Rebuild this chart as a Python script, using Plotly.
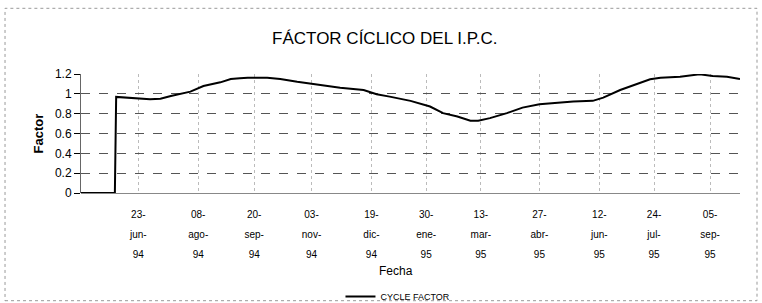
import plotly.graph_objects as go

# ---- data ----
fechas = [
    "1994-05-10", "1994-06-05", "1994-06-06", "1994-06-24", "1994-07-02", "1994-07-10",
    "1994-07-18", "1994-08-02", "1994-08-12", "1994-08-25", "1994-09-02", "1994-09-09",
    "1994-09-15", "1994-09-30", "1994-10-10", "1994-10-23", "1994-11-10", "1994-11-25",
    "1994-12-13", "1994-12-23", "1995-01-02", "1995-01-10", "1995-01-18", "1995-02-02",
    "1995-02-12", "1995-02-23", "1995-03-05", "1995-03-11", "1995-03-20", "1995-04-02",
    "1995-04-14", "1995-04-27", "1995-05-11", "1995-05-23", "1995-06-07", "1995-06-15",
    "1995-06-28", "1995-07-11", "1995-07-21", "1995-07-29", "1995-08-13", "1995-08-28",
    "1995-09-07", "1995-09-18", "1995-09-28",
]
cycle_factor = [
    0.0, 0.0, 0.969, 0.956, 0.946, 0.950,
    0.979, 1.022, 1.079, 1.116, 1.150, 1.157,
    1.163, 1.163, 1.150, 1.122, 1.089, 1.062,
    1.039, 0.996, 0.972, 0.949, 0.929, 0.872,
    0.805, 0.771, 0.728, 0.728, 0.755, 0.805,
    0.861, 0.896, 0.912, 0.922, 0.929, 0.962,
    1.039, 1.096, 1.147, 1.163, 1.173, 1.197,
    1.180, 1.173, 1.150,
]
tick_fechas = ["1994-06-23", "1994-08-08", "1994-09-20", "1994-11-03", "1994-12-19",
               "1995-01-30", "1995-03-13", "1995-04-27", "1995-06-12", "1995-07-24",
               "1995-09-05"]
tick_dia = ["23-", "08-", "20-", "03-", "19-", "30-", "13-", "27-", "12-", "24-", "05-"]
tick_mes = ["jun-", "ago-", "sep-", "nov-", "dic-", "ene-", "mar-", "abr-", "jun-", "jul-", "sep-"]
tick_anio = ["94", "94", "94", "94", "94", "95", "95", "95", "95", "95", "95"]
y_ticks = [0, 0.2, 0.4, 0.6, 0.8, 1, 1.2]
y_labels = ["0", "0.2", "0.4", "0.6", "0.8", "1", "1.2"]
x_range = ["1994-05-10", "1995-09-28"]

FONT = "Liberation Sans, Arial, sans-serif"

fig = go.Figure()
fig.add_trace(go.Scatter(
    x=fechas, y=cycle_factor, mode="lines", name="CYCLE FACTOR",
    line=dict(color="#000000", width=2),
))

common_x = dict(range=x_range, type="date", tickmode="array", tickvals=tick_fechas,
                ticks="", automargin=False,
                tickfont=dict(family=FONT, size=10, color="#000"))

fig.update_layout(
    width=762, height=303,
    margin=dict(l=81, r=22, t=74, b=110, autoexpand=False),
    paper_bgcolor="white", plot_bgcolor="white",
    font=dict(family=FONT, color="#000"),
    title=dict(text="FÁCTOR CÍCLICO DEL I.P.C.", x=0.505, xanchor="center",
               y=0.875, yanchor="middle", font=dict(family=FONT, size=17, color="#000")),
    showlegend=True,
    legend=dict(orientation="h", x=0.481, xanchor="center", y=-0.87, yanchor="middle",
                font=dict(family=FONT, size=9, color="#000"), itemwidth=30,
                bgcolor="rgba(0,0,0,0)"),
    xaxis=dict(**common_x, ticktext=tick_dia, ticklabelstandoff=14,
               showgrid=True, gridcolor="#bbbbbb", griddash="dot", gridwidth=1,
               showline=False, zeroline=False),
    xaxis2=dict(**common_x, ticktext=tick_mes, ticklabelstandoff=34, overlaying="x",
                matches="x", anchor="y", side="bottom", showgrid=False, showline=False,
                zeroline=False),
    xaxis3=dict(**common_x, ticktext=tick_anio, ticklabelstandoff=54, overlaying="x",
                matches="x", anchor="y", side="bottom", showgrid=False, showline=False,
                zeroline=False),
    yaxis=dict(range=[0, 1.2], tickmode="array", tickvals=y_ticks, ticktext=y_labels,
               ticks="outside", ticklen=6, tickcolor="#000", automargin=False,
               tickfont=dict(family=FONT, size=12, color="#000"),
               showgrid=True, gridcolor="#555555", griddash="dash", gridwidth=1,
               showline=True, linecolor="#666666", linewidth=1,
               zeroline=True, zerolinecolor="#888888", zerolinewidth=1,
               title=dict(text="<b>Factor</b>", standoff=8,
                          font=dict(family=FONT, size=13, color="#000"))),
    annotations=[dict(text="Fecha", xref="paper", yref="paper", x=0.478, y=-0.655,
                      showarrow=False, xanchor="center", yanchor="middle",
                      font=dict(family=FONT, size=12, color="#000"))],
    shapes=[dict(type="rect", xref="paper", yref="paper", x0=-0.1153, x1=1.0258,
                 y0=-0.905, y1=1.552, line=dict(color="#999999", width=1, dash="dot"))],
)
# empty traces so the overlay axes (extra tick-label rows) render
fig.add_trace(go.Scatter(x=[], y=[], xaxis="x2", showlegend=False, hoverinfo="skip"))
fig.add_trace(go.Scatter(x=[], y=[], xaxis="x3", showlegend=False, hoverinfo="skip"))

fig.write_html("out.html", config={"displayModeBar": False},
               post_script="document.body.style.margin='0';document.body.style.overflow='hidden';")
